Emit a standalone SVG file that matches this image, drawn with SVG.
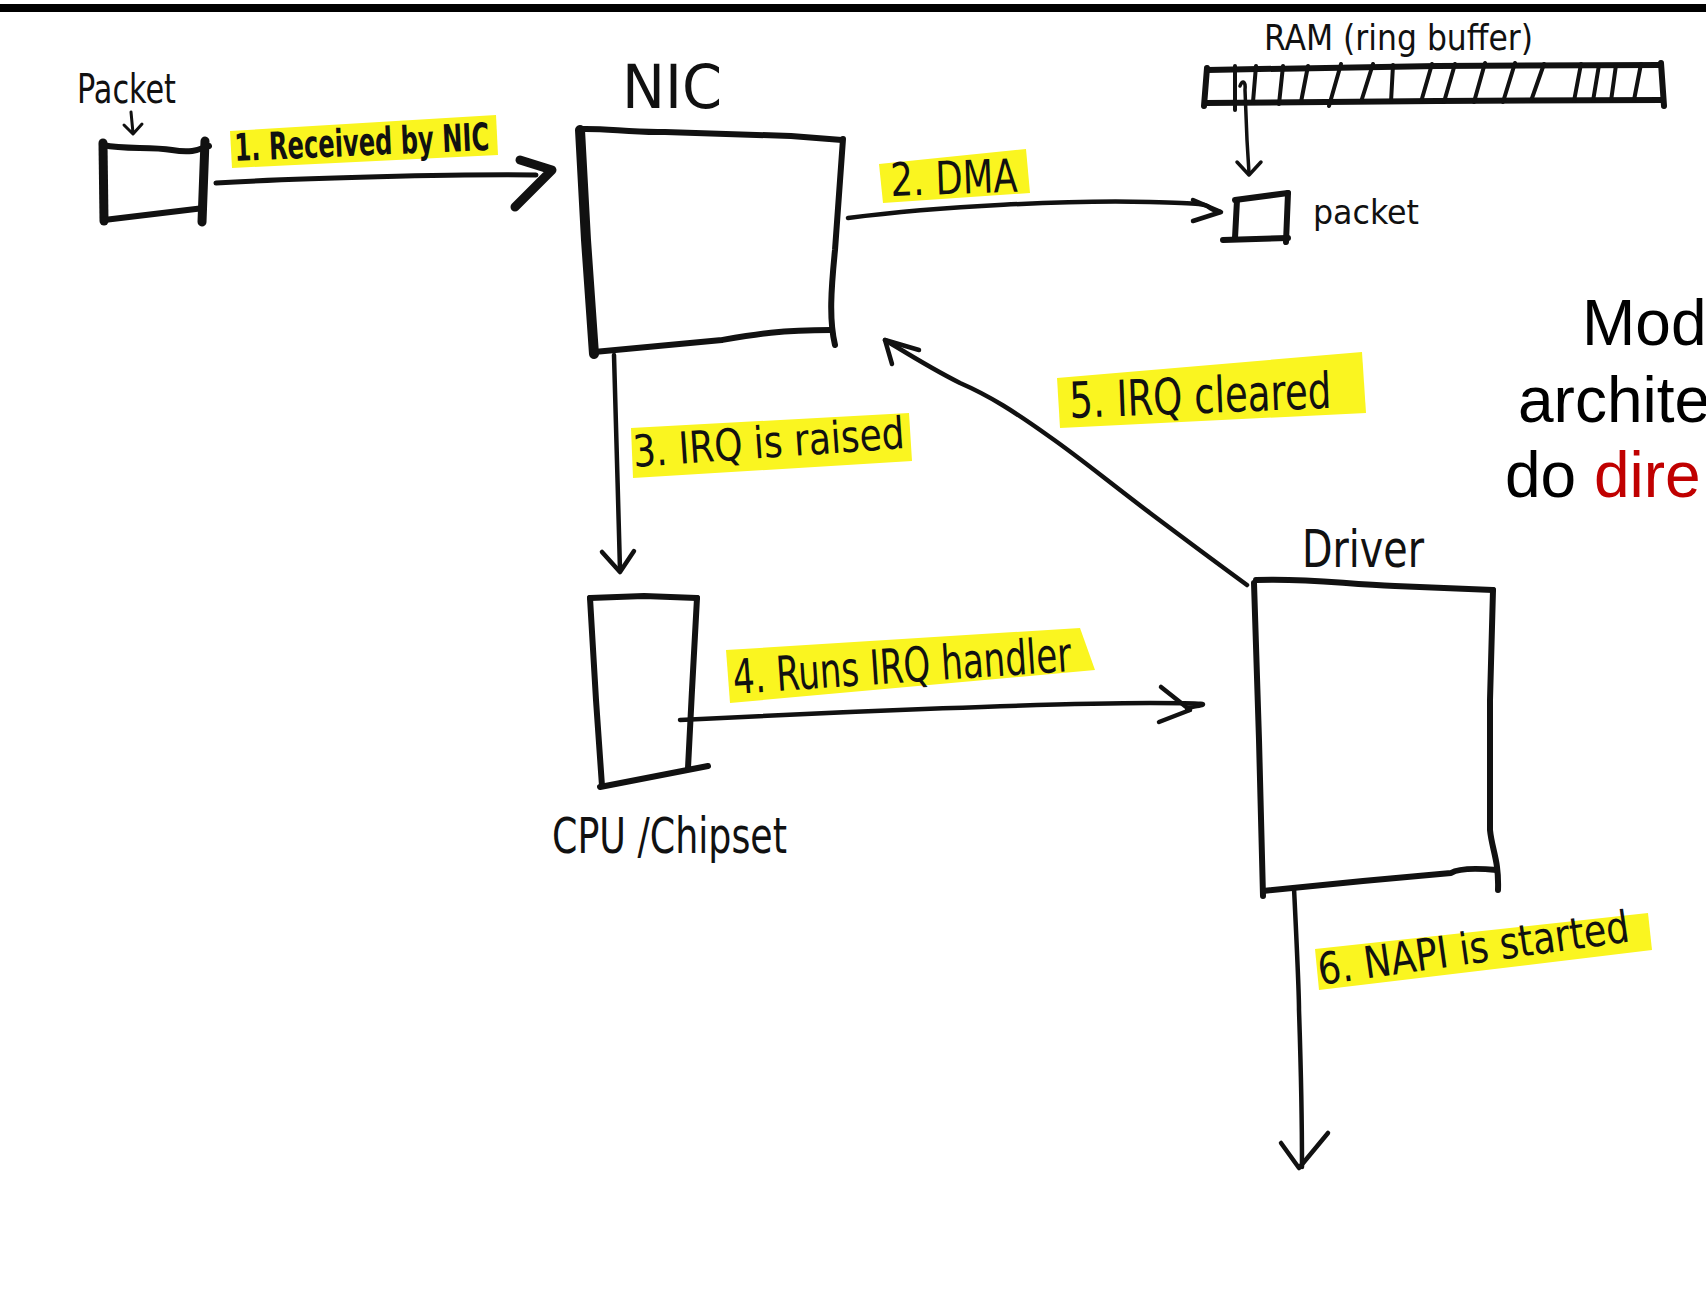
<svg xmlns="http://www.w3.org/2000/svg" width="1706" height="1290" viewBox="0 0 1706 1290">
<style>
.ink{fill:none;stroke:#111;stroke-linecap:round;stroke-linejoin:round}
.box{stroke-width:6}
.thick{stroke-width:9}
.line{stroke-width:4.5}
.hl{fill:#faf520}
.hand{font-family:"Liberation Sans Narrow","DejaVu Sans Condensed","Liberation Sans",sans-serif;fill:#111}
.slide{font-family:"Liberation Sans",Arial,sans-serif;font-size:64px;fill:#000}
</style>
<rect x="0" y="0" width="1706" height="1290" fill="#fff"/>
<rect x="0" y="4" width="1706" height="8" fill="#000"/>

<g id="packet-src">
  <path class="ink thick" d="M103,143 L104,221"/>
  <path class="ink box" d="M103,145 C126,150 149,146 172,150 S201,148 209,146"/>
  <path class="ink box" d="M104,220 L204,208"/>
  <path class="ink thick" d="M205,141 L202,222"/>
  <text class="hand" x="77" y="103" font-size="40" textLength="99" lengthAdjust="spacingAndGlyphs">Packet</text>
  <path class="ink" stroke-width="3" d="M131,112 L133,133 M124,125 L133,134 L142,124"/>
</g>

<g id="nic">
  <path class="ink" stroke-width="10" d="M580,130 L586,240 L594,354"/>
  <path class="ink box" d="M580,129 C607,128 630,133 665,132 L791,136 L842,140"/>
  <path class="ink box" d="M843,139 L835,250 C831,290 829,320 835,345"/>
  <path class="ink box" d="M594,352 L722,340 C757,334 780,330 831,330"/>
  <text class="hand" x="622" y="108" font-size="60" textLength="100" lengthAdjust="spacingAndGlyphs">NIC</text>
</g>

<g id="ram">
  <path class="ink box" d="M1207,70 L1437,66 L1661,65"/>
  <path class="ink box" d="M1205,103 L1437,101 L1662,100"/>
  <path class="ink box" d="M1207,68 L1204,106"/>
  <path class="ink box" d="M1661,63 L1664,106"/>
  <path class="ink" stroke-width="4" d="M1235,66 L1235,110 M1256,66 L1253,102 M1283,66 L1279,104 M1308,66 L1301,102 M1341,64 L1329,106 M1373,64 L1361,102 M1393,65 L1391,102 M1432,64 L1421,102 M1455,64 L1444,102 M1485,63 L1474,102 M1515,63 L1503,102 M1544,64 L1531,101 M1581,64 L1574,101 M1599,65 L1593,101 M1616,65 L1611,101 M1641,64 L1634,100"/>
  <text class="hand" x="1264" y="50" font-size="36" textLength="269" lengthAdjust="spacingAndGlyphs">RAM (ring buffer)</text>
</g>

<g id="packet-ram">
  <path class="ink box" d="M1235,200 L1288,193"/>
  <path class="ink box" d="M1237,200 L1235,238"/>
  <path class="ink box" d="M1288,193 L1286,242"/>
  <path class="ink box" d="M1223,240 L1288,238"/>
  <text class="hand" x="1313" y="224" font-size="34" textLength="106" lengthAdjust="spacingAndGlyphs">packet</text>
</g>

<g id="cpu">
  <path class="ink box" d="M590,598 L644,596 L697,598"/>
  <path class="ink box" d="M590,598 L596,700 L602,786"/>
  <path class="ink box" d="M697,598 L692,690 L688,768"/>
  <path class="ink box" d="M600,787 L708,766"/>
  <text class="hand" x="552" y="853" font-size="50" textLength="235" lengthAdjust="spacingAndGlyphs">CPU /Chipset</text>
</g>

<g id="driver">
  <path class="ink box" d="M1256,580 C1310,578 1342,584 1395,586 L1493,590"/>
  <path class="ink box" d="M1254,583 L1259,740 L1263,896"/>
  <path class="ink box" d="M1493,590 L1490,700 L1490,830 C1492,850 1499,860 1498,890"/>
  <path class="ink box" d="M1263,891 L1363,881 L1451,873 C1459,868 1475,868 1497,870"/>
  <text class="hand" x="1302" y="567" font-size="52" textLength="122" lengthAdjust="spacingAndGlyphs">Driver</text>
</g>

<g id="connectors">
  <g id="edge1">
    <path class="hl" d="M230,131 L496,115 L498,155 L232,168 Z"/>
    <text class="hand" x="235" y="161" font-size="38" font-weight="bold" textLength="255" lengthAdjust="spacingAndGlyphs" transform="rotate(-2.5 235 161)">1. Received by NIC</text>
    <path class="ink" stroke-width="5" d="M216,183 C298,178 459,174 536,175"/>
    <path class="ink" stroke-width="9" d="M520,160 L552,170 L515,207"/>
  </g>
  <g id="edge2">
    <path class="hl" d="M879,164 L1026,149 L1030,193 L883,203 Z"/>
    <text class="hand" x="891" y="196" font-size="46" textLength="127" lengthAdjust="spacingAndGlyphs" transform="rotate(-2 891 196)">2. DMA</text>
    <path class="ink line" d="M848,218 C940,206 1070,200 1150,202 S1195,205 1220,212"/>
    <path class="ink line" d="M1193,200 L1221,212 L1193,221"/>
  </g>
  <g id="edge-ram">
    <path class="ink" stroke-width="3.5" d="M1240,86 C1242,80 1246,80 1245,90 L1247,140 L1249,173"/>
    <path class="ink" stroke-width="3.5" d="M1237,162 L1249,175 L1261,162"/>
  </g>
  <g id="edge3">
    <path class="hl" d="M631,428 L909,413 L912,461 L633,478 Z"/>
    <text class="hand" x="634" y="467" font-size="44" textLength="272" lengthAdjust="spacingAndGlyphs" transform="rotate(-4 634 467)">3. IRQ is raised</text>
    <path class="ink line" d="M614,355 C616,420 618,500 620,570"/>
    <path class="ink line" d="M602,552 L620,572 L634,551"/>
  </g>
  <g id="edge4">
    <path class="hl" d="M726,650 L1080,628 L1095,670 L730,703 Z"/>
    <text class="hand" x="734" y="694" font-size="48" textLength="339" lengthAdjust="spacingAndGlyphs" transform="rotate(-3.9 734 694)">4. Runs IRQ handler</text>
    <path class="ink line" d="M680,720 L722,718 C840,712 1050,703 1150,703 S1175,706 1189,710"/>
    <path class="ink line" d="M1161,687 L1190,710 L1159,722"/>
  </g>
  <g id="edge5">
    <path class="hl" d="M1057,378 L1362,352 L1366,413 L1060,428 Z"/>
    <text class="hand" x="1070" y="418" font-size="50" textLength="262" lengthAdjust="spacingAndGlyphs" transform="rotate(-2.2 1070 418)">5. IRQ cleared</text>
    <path class="ink line" d="M1247,585 C1210,558 1170,528 1150,513 C1100,475 1080,458 1050,437 C1015,412 990,396 960,383 C930,368 905,352 885,340"/>
    <path class="ink line" d="M892,364 L885,340 L919,350"/>
  </g>
  <g id="edge6">
    <path class="hl" d="M1315,949 L1648,913 L1652,950 L1319,990 Z"/>
    <text class="hand" x="1320" y="985" font-size="44" textLength="314" lengthAdjust="spacingAndGlyphs" transform="rotate(-8 1320 985)">6. NAPI is started</text>
    <path class="ink line" d="M1294,888 C1297,950 1299,990 1299,1010 C1301,1070 1302,1120 1302,1167"/>
    <path class="ink line" d="M1281,1143 L1299,1168 L1328,1133"/>
  </g>
</g>

<g id="slide-text">
  <text class="slide" x="1582" y="345">Mod</text>
  <text class="slide" x="1518" y="422">archite</text>
  <text class="slide" x="1505" y="497">do <tspan fill="#c00000">dire</tspan></text>
</g>
</svg>
